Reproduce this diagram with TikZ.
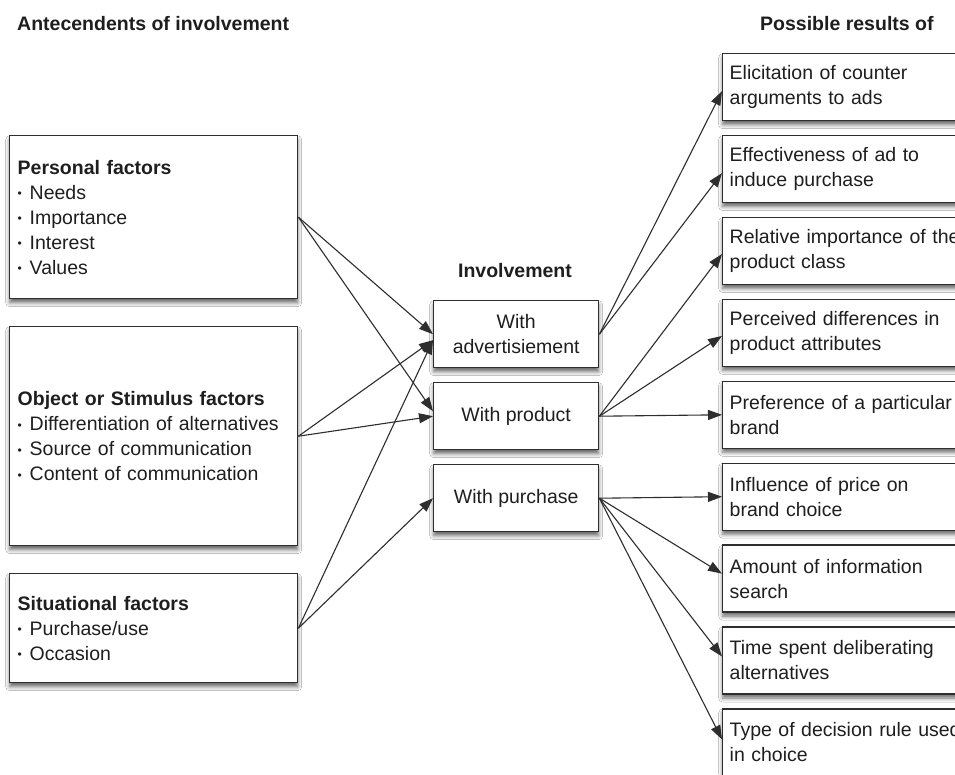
\documentclass[tikz,border=0pt]{standalone}
\usepackage{fontspec}
\setmainfont{Liberation Sans}
\usetikzlibrary{arrows.meta,shadows.blur}
\definecolor{ink}{HTML}{1E1E1E}
\definecolor{edge}{HTML}{2E2E2E}
% small list bullet
\newcommand\bul{\makebox[12pt][l]{\fontsize{12}{12}\selectfont\raisebox{1.5pt}{•}}}
\begin{document}
\begin{tikzpicture}[x=1pt,y=-1pt,
  font=\fontsize{19.5}{25}\selectfont,
  box/.style={draw=edge, line width=1.4pt, fill=white, text=ink,
    blur shadow={shadow xshift=0pt, shadow yshift=-4pt,
      shadow blur radius=4pt, shadow opacity=60},
    inner xsep=8pt, inner ysep=0pt, anchor=north west},
  lbox/.style={box, minimum width=288pt, text width=272pt, align=left},
  cbox/.style={box, minimum width=165pt, minimum height=67pt, align=center},
  rbox/.style={box, minimum width=262pt, minimum height=67pt, inner xsep=7pt,
    text width=248pt, align=left},
  heading/.style={font=\fontsize{19.5}{25}\selectfont\bfseries, text=ink},
  link/.style={draw=edge, line width=1.1pt, -{Triangle[length=14pt,width=10pt]}}]
\clip (0,0) rectangle (955,774);
\fill[white] (0,0) rectangle (955,774);

% column headings
\node[heading, anchor=west, inner sep=0pt] (hl) at (17,24) {Antecendents of involvement};
\node[heading, anchor=west, inner sep=0pt] (hr) at (760,24) {Possible results of};
\node[heading, inner sep=0pt] (hm) at (515,271) {Involvement};

% antecedents
\node[lbox, minimum height=163pt] (pers) at (9,135)
  {\textbf{Personal factors}\\\bul Needs\\\bul Importance\\\bul Interest\\\bul Values};
\node[lbox, minimum height=219pt] (obj) at (9,326)
  {\textbf{Object or Stimulus factors}\\\bul Differentiation of alternatives\\\bul Source of communication\\\bul Content of communication};
\node[lbox, minimum height=109pt] (sit) at (9,573)
  {\textbf{Situational factors}\\\bul Purchase/use\\\bul Occasion};

% involvement
\node[cbox] (adv) at (433,300) {With\\advertisiement};
\node[cbox] (prod) at (433,382) {With product};
\node[cbox] (purch) at (433,464) {With purchase};

% results
\node[rbox] (r1) at (722,53) {Elicitation of counter\\arguments to ads};
\node[rbox] (r2) at (722,134.9) {Effectiveness of ad to\\induce purchase};
\node[rbox] (r3) at (722,216.8) {Relative importance of the\\product class};
\node[rbox] (r4) at (722,298.7) {Perceived differences in\\product attributes};
\node[rbox] (r5) at (722,380.6) {Preference of a particular\\brand};
\node[rbox] (r6) at (722,462.5) {Influence of price on\\brand choice};
\node[rbox] (r7) at (722,544.4) {Amount of information\\search};
\node[rbox] (r8) at (722,626.3) {Time spent deliberating\\alternatives};
\node[rbox] (r9) at (722,708.2) {Type of decision rule used\\in choice};

% antecedents to involvement
\draw[link] (pers.east) -- (adv.west);
\draw[link] (pers.east) -- ([yshift=5pt]prod.west);
\draw[link] (obj.east) -- ([yshift=-6pt]adv.west);
\draw[link] (obj.east) -- (prod.west);
\draw[link] (sit.east) -- ([yshift=-6pt]adv.west);
\draw[link] (sit.east) -- (purch.west);

% involvement to results
\draw[link] (adv.east) -- ([yshift=-4pt]r1.west);
\draw[link] (adv.east) -- ([yshift=-4pt]r2.west);
\draw[link] (prod.east) -- ([yshift=-3pt]r3.west);
\draw[link] (prod.east) -- ([yshift=-3pt]r4.west);
\draw[link] (prod.east) -- (r5.west);
\draw[link] (purch.east) -- (r6.west);
\draw[link] (purch.east) -- ([yshift=5pt]r7.west);
\draw[link] (purch.east) -- ([yshift=4pt]r8.west);
\draw[link] (purch.east) -- ([yshift=3pt]r9.west);
\end{tikzpicture}
\end{document}
